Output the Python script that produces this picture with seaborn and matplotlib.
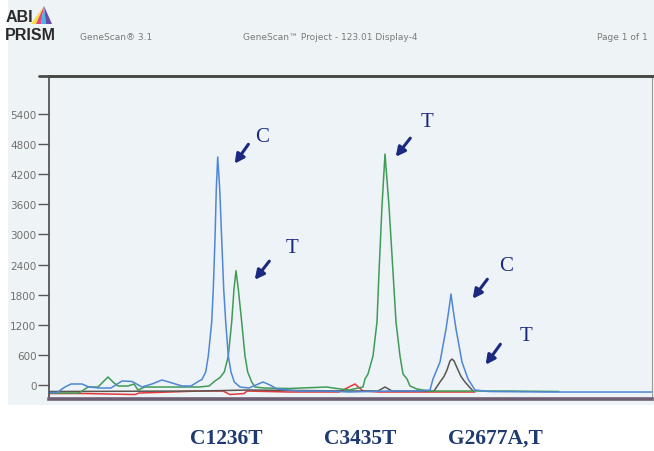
import numpy as np
import pandas as pd
import matplotlib
matplotlib.use("Agg")
import matplotlib.pyplot as plt
from matplotlib.patches import Polygon, Rectangle
from matplotlib.lines import Line2D
import seaborn as sns

# electropherogram traces (scan point, RFU)
blue_x = [0, 8, 16, 22, 33, 40, 50, 62, 73, 83, 93, 103, 113, 123, 133, 142, 150, 153, 156.7, 159.3,
          162.7, 164.3, 166, 167.3, 168.7, 170.7, 172.7, 174.7, 176.7, 179.3, 182, 185.3, 191, 200, 207,
          214, 221, 228, 250, 278, 300, 340, 370, 381, 384, 391, 397, 400, 402, 404, 407, 413, 419, 426,
          440, 500, 603]
blue_y = [-150, -150, -40, 20, 20, -40, -60, -60, 80, 70, -40, 20, 100, 40, -20, -20, 80, 110, 259, 578,
          1256, 1913, 2910, 3906, 4544, 3906, 2910, 1913, 1256, 578, 259, 60, -40, -60, 0,
          60, 0, -80, -120, -120, -140, -120, -120, -100, 120, 458, 1116, 1515, 1814, 1515, 1116, 458, 120, -100,
          -130, -140, -140]

green_x = [0, 30, 39, 49, 54, 59, 64, 69, 79, 85, 89, 96, 120, 150, 160, 166, 171, 175.3, 179.3, 182.7,
           185, 187, 189.3, 192.7, 196, 198.7, 202.7, 206, 215, 240, 278, 284, 300, 314, 316, 319, 324, 328,
           330, 333, 336, 340, 344, 347, 351, 354, 358, 361, 368, 380, 460, 510]
green_y = [-160, -160, -40, -40, 60, 160, 60, -20, -20, 20, -100, -40, -40, -40, -20, 80, 150, 259, 578, 1256,
           1913, 2278, 1913, 1256, 578, 259, 60, -40, -60, -70, -40, -60, -100, -40, 120, 219, 578, 1256,
           2252, 3567, 4604, 3567, 2252, 1256, 578, 219, 120, -20, -80, -120, -120, -130]

black_x = [0, 150, 200, 300, 329, 336, 343, 360, 385, 391, 395, 398, 401, 403, 405, 409, 412, 416, 424]
black_y = [-130, -120, -100, -120, -120, -40, -120, -120, -120, 60, 170, 300, 480, 518, 480, 300, 170, 60, -120]

red_x = [0, 36, 86, 90, 150, 174, 181, 195, 198, 240, 290, 300, 306, 314, 330, 426]
red_y = [-170, -170, -190, -160, -120, -120, -190, -170, -120, -140, -140, -40, 20, -120, -140, -140]

y_ticks = [0, 600, 1200, 1800, 2400, 3000, 3600, 4200, 4800, 5400]
markers = ["C1236T", "C3435T", "G2677A,T"]

df = pd.concat([
    pd.DataFrame({"scan": red_x, "rfu": red_y, "dye": "red"}),
    pd.DataFrame({"scan": black_x, "rfu": black_y, "dye": "black"}),
    pd.DataFrame({"scan": green_x, "rfu": green_y, "dye": "green"}),
    pd.DataFrame({"scan": blue_x, "rfu": blue_y, "dye": "blue"}),
])

sns.set_style("white")
plt.rcParams["font.family"] = ["DejaVu Sans"]

W, H = 654, 452
fig = plt.figure(figsize=(W / 100, H / 100), dpi=100, facecolor="white")

# scanned page tint
fig.patches.append(Rectangle((8 / W, 1 - 406 / H), 1, 406 / H, transform=fig.transFigure,
                             facecolor="#eef3f6", edgecolor="none", zorder=-5))

ax = fig.add_axes([49 / W, 1 - 400 / H, (652 - 49) / W, (400 - 77) / H])
ax.set_facecolor("#edf3f7")

palette = {"red": "#e2383a", "black": "#5a5550", "green": "#3f9c55", "blue": "#4f86d6"}
sns.lineplot(data=df, x="scan", y="rfu", hue="dye", palette=palette, estimator=None,
             sort=False, legend=False, linewidth=1.1, ax=ax)

ax.set_xlim(0, 603)
ax.set_ylim(-279, 6158)
ax.set_xticks([])
ax.set_yticks(y_ticks)
ax.set_yticklabels([str(v) for v in y_ticks])
ax.tick_params(axis="y", direction="out", length=8, width=1, color="#555555",
               labelsize=7.5, labelcolor="#707070", pad=1, left=True)
ax.set_xlabel("")
ax.set_ylabel("")

for side, lw, col in [("left", 1.3, "#555555"), ("top", 2.0, "#4a4a4a"),
                      ("bottom", 2.6, "#6e6072"), ("right", 0.8, "#9a9a9a")]:
    ax.spines[side].set_visible(True)
    ax.spines[side].set_linewidth(lw)
    ax.spines[side].set_color(col)

fig.lines.append(Line2D([39 / W, 1], [1 - 77 / H, 1 - 77 / H], transform=fig.transFigure,
                        color="#4a4a4a", linewidth=2.0))

# allele arrows
navy = "#1b2a80"
notes = [("C", (213, 4943), (201, 4843), (184, 4365)),
         ("T", (243, 2750), (222, 2511), (204, 2053)),
         ("T", (378, 5242), (363, 4963), (345, 4504)),
         ("C", (457, 2372), (440, 2152), (422, 1674)),
         ("T", (477, 977), (453, 857), (435, 359))]
for letter, tpos, tail, head in notes:
    ax.text(tpos[0], tpos[1], letter, fontsize=15, color=navy, family="Liberation Serif",
            ha="center", va="center")
    ax.annotate("", xy=head, xytext=tail,
                arrowprops=dict(arrowstyle="-|>,head_length=0.55,head_width=0.28", color=navy, lw=2.2))

# marker labels under the plot
for name, px in zip(markers, [226, 360, 495]):
    fig.text(px / W, 1 - 439 / H, name, fontsize=15.5, fontweight="bold", color="#1f3a70",
             family="Liberation Serif", ha="center", va="center")

# header
fig.text(6 / W, 1 - 17 / H, "ABI", fontsize=11.5, fontweight="bold", color="#2a2a2a",
         family="Liberation Sans", va="center")
fig.text(5 / W, 1 - 35 / H, "PRISM", fontsize=11.5, fontweight="bold", color="#2a2a2a",
         family="Liberation Sans", va="center")
apex = (44, 7)
base = [31, 36, 41, 46, 52]
cols = ["#f2e23a", "#e8428a", "#46b6e3", "#6b4aa8"]
for i, c in enumerate(cols):
    pts = [(apex[0] / W, 1 - apex[1] / H), (base[i] / W, 1 - 25 / H), (base[i + 1] / W, 1 - 25 / H)]
    fig.patches.append(Polygon(pts, closed=True, transform=fig.transFigure, facecolor=c,
                               edgecolor="none", zorder=2))
hdr = dict(fontsize=6.5, color="#7a7a7a", va="center")
fig.text(80 / W, 1 - 38 / H, "GeneScan® 3.1", **hdr)
fig.text(330 / W, 1 - 38 / H, "GeneScan™ Project - 123.01 Display-4", ha="center", **hdr)
fig.text(597 / W, 1 - 38 / H, "Page 1 of 1", **hdr)

fig.savefig("out.png", dpi=100, facecolor=fig.get_facecolor())
